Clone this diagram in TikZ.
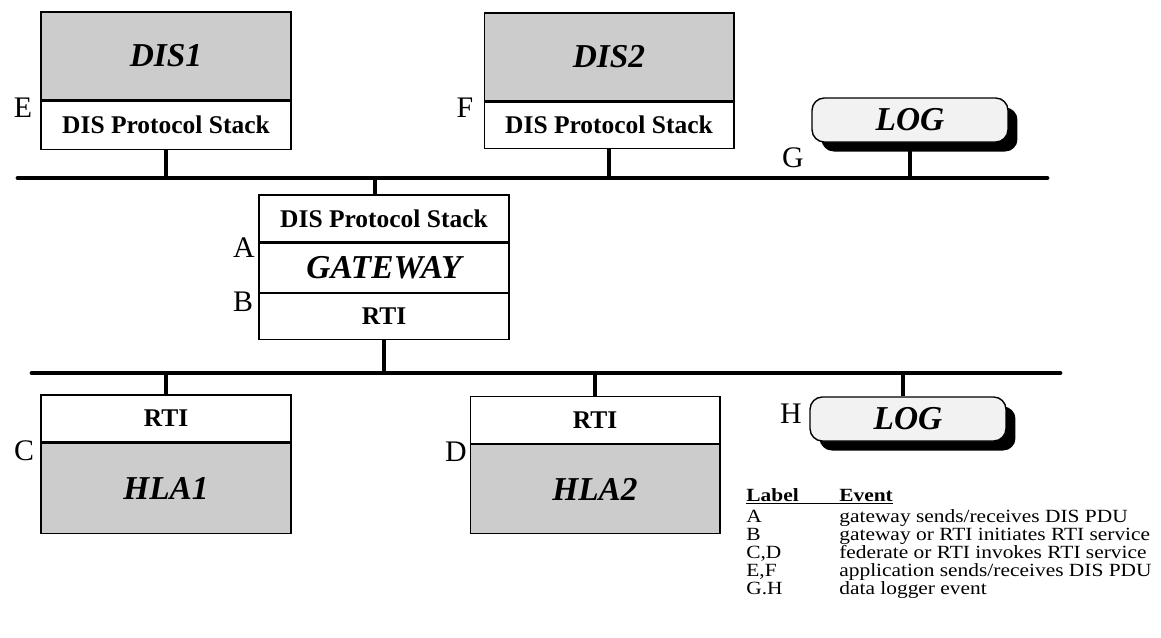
\documentclass[tikz,border=0pt]{standalone}
\usepackage{fontspec}
\setmainfont{Liberation Serif}
\newfontfamily\legendfont{Liberation Serif}[FakeStretch=1.15]
\usetikzlibrary{positioning,shadows}
\definecolor{boxgray}{RGB}{204,204,204}
\definecolor{loggray}{RGB}{242,242,242}

\tikzset{
  layer/.style={draw, line width=0.6pt, minimum width=5cm, inner sep=0pt,
    font=\fontsize{14.5}{16}\selectfont\bfseries},
  app/.style={layer, fill=boxgray, font=\fontsize{19}{22}\selectfont\bfseries\itshape},
  logbox/.style={draw, line width=0.8pt, fill=loggray, rounded corners=7pt,
    minimum width=3.92cm, minimum height=0.88cm, inner sep=0pt,
    font=\fontsize{19}{22}\selectfont\bfseries\itshape,
    drop shadow={shadow xshift=0.19cm, shadow yshift=-0.19cm, fill=black, opacity=1}},
  evlabel/.style={font=\fontsize{17}{20}\selectfont, inner sep=0pt},
  legend/.style={font=\legendfont\fontsize{10.6}{12}\selectfont, inner sep=0pt, anchor=base west},
  bus/.style={line width=2.8pt, line cap=round},
  stub/.style={line width=2.2pt}
}

\begin{document}
\begin{tikzpicture}[x=0.02cm, y=-0.02cm]
    \useasboundingbox (0,0) rectangle (1161,637);

    % networks
    \coordinate (disnetw) at (18,178);
    \coordinate (disnete) at (1047,178);
    \coordinate (hlanetw) at (32,373);
    \coordinate (hlanete) at (1060,373);

    % DIS applications
    \node[app, minimum height=1.76cm] (dis1) at (166,56) {DIS1};
    \node[layer, minimum height=0.96cm, below=0pt of dis1] (dis1stack) {DIS Protocol Stack};
    \node[app, minimum height=1.76cm] (dis2) at (609,57) {DIS2};
    \node[layer, minimum height=0.92cm, below=0pt of dis2] (dis2stack) {DIS Protocol Stack};

    % gateway
    \node[layer, minimum height=0.94cm] (gwstack) at (384,218.5) {DIS Protocol Stack};
    \node[layer, minimum height=0.98cm, below=0pt of gwstack,
          font=\fontsize{19}{22}\selectfont\bfseries\itshape] (gateway) {GATEWAY};
    \node[layer, minimum height=0.92cm, below=0pt of gateway] (gwrti) {RTI};

    % HLA federates
    \node[layer, minimum height=0.94cm] (hla1rti) at (166,418.5) {RTI};
    \node[app, minimum height=1.8cm, below=0pt of hla1rti] (hla1) {HLA1};
    \node[layer, minimum height=0.94cm] (hla2rti) at (595,420) {RTI};
    \node[app, minimum height=1.78cm, below=0pt of hla2rti] (hla2) {HLA2};

    % loggers
    \node[logbox] (log1) at (910,120) {LOG};
    \node[logbox] (log2) at (908,419) {LOG};

    \draw[bus] (disnetw) -- (disnete);
    \draw[bus] (hlanetw) -- (hlanete);

    \draw[stub] (dis1stack.south) -- (dis1stack.south |- disnetw);
    \draw[stub] (dis2stack.south) -- (dis2stack.south |- disnetw);
    \draw[stub] ([xshift=-0.18cm]gwstack.north) -- ([xshift=-0.18cm]gwstack.north |- disnetw);
    \draw[stub] (log1.south) -- (log1.south |- disnetw);
    \draw[stub] (gwrti.south) -- (gwrti.south |- hlanetw);
    \draw[stub] (hla1rti.north) -- (hla1rti.north |- hlanetw);
    \draw[stub] (hla2rti.north) -- (hla2rti.north |- hlanetw);
    \draw[stub] ([xshift=-0.1cm]log2.north) -- ([xshift=-0.1cm]log2.north |- hlanetw);

    % event labels
    \node[evlabel] (labE) at (23,108) {E};
    \node[evlabel] (labF) at (465,108) {F};
    \node[evlabel] (labG) at (793,158) {G};
    \node[evlabel] (labA) at (244,248) {A};
    \node[evlabel] (labB) at (243,302) {B};
    \node[evlabel] (labC) at (24,451) {C};
    \node[evlabel] (labD) at (456,452) {D};
    \node[evlabel] (labH) at (791,414) {H};

    % legend
    \node[legend] (leghead) at (746,501) {\bfseries\underline{\makebox[1.86cm][l]{Label}Event}};
    \foreach \lab/\txt [count=\i] in {A/{gateway sends/receives DIS PDU},
        B/{gateway or RTI initiates RTI service},
        {C,D}/{federate or RTI invokes RTI service},
        {E,F}/{application sends/receives DIS PDU},
        G.H/{data logger event}} {
      \node[legend] (leglab\i) at (746,{504+18*\i}) {\lab};
      \node[legend] (legevt\i) at (839,{504+18*\i}) {\txt};
    }

\end{tikzpicture}
\end{document}
